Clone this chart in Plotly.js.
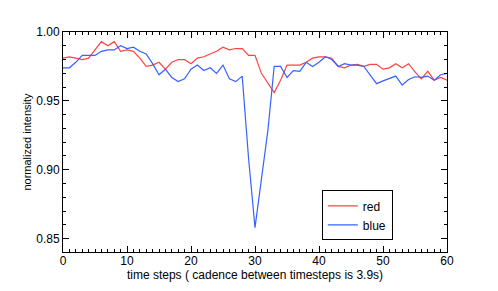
<!DOCTYPE html>
<html>
<head>
<meta charset="utf-8">
<script src="https://cdn.plot.ly/plotly-3.0.1.min.js"></script>
<style>html,body{margin:0;padding:0;background:#fff;}#chart{width:498px;height:291px;}</style>
</head>
<body>
<div id="chart"></div>
<script>
var timeSteps = [];
for (var i = 0; i <= 60; i++) timeSteps.push(i);

var redValues = [0.981,0.982,0.981,0.980,0.981,0.987,0.993,0.990,0.993,0.986,0.987,0.986,0.981,0.975,0.976,0.978,0.973,0.978,0.980,0.980,0.977,0.981,0.982,0.984,0.986,0.989,0.987,0.988,0.988,0.983,0.983,0.970,0.963,0.956,0.965,0.976,0.976,0.976,0.978,0.981,0.982,0.982,0.981,0.975,0.974,0.976,0.9765,0.975,0.9765,0.9765,0.973,0.974,0.977,0.974,0.977,0.971,0.966,0.9715,0.965,0.967,0.965];

var blueValues = [0.974,0.974,0.978,0.983,0.983,0.983,0.986,0.987,0.987,0.990,0.988,0.989,0.986,0.984,0.977,0.969,0.973,0.967,0.964,0.966,0.973,0.976,0.972,0.974,0.970,0.976,0.966,0.964,0.968,0.908,0.858,0.893,0.928,0.975,0.975,0.967,0.972,0.9715,0.978,0.975,0.978,0.982,0.980,0.975,0.977,0.976,0.976,0.975,0.969,0.9625,0.9645,0.966,0.968,0.9615,0.9655,0.9675,0.967,0.968,0.965,0.969,0.970];

var xTicks = [0, 10, 20, 30, 40, 50, 60];
var yTicks = [0.85, 0.90, 0.95, 1.00];
var yTickLabels = ["0.85", "0.90", "0.95", "1.00"];

var traces = [
  {x: timeSteps, y: redValues, type: 'scatter', mode: 'lines', name: 'red',
   line: {color: 'rgb(255,66,66)', width: 1.2}},
  {x: timeSteps, y: blueValues, type: 'scatter', mode: 'lines', name: 'blue',
   line: {color: 'rgb(55,98,255)', width: 1.2}}
];

var font = '"Liberation Sans", Arial, Helvetica, sans-serif';

var layout = {
  width: 498, height: 291,
  margin: {l: 63, r: 51, t: 32, b: 39},
  paper_bgcolor: '#fff', plot_bgcolor: '#fff',
  font: {family: font, size: 12, color: '#000'},
  showlegend: true,
  legend: {
    x: 0.674, y: 0.28, xanchor: 'left', yanchor: 'top',
    bgcolor: '#fff', bordercolor: '#000', borderwidth: 1,
    font: {family: font, size: 12, color: '#000'},
    tracegroupgap: 0, itemwidth: 30
  },
  xaxis: {
    range: [0, 60], tickvals: xTicks, ticktext: xTicks.map(String),
    ticks: 'inside', ticklen: 6, tickwidth: 1, tickcolor: '#000',
    minor: {dtick: 1, ticks: 'inside', ticklen: 3, tickwidth: 1, tickcolor: '#000', showgrid: false},
    showline: true, linecolor: '#000', linewidth: 1, mirror: 'allticks',
    showgrid: false, zeroline: false, ticklabelstandoff: -2,
    tickfont: {family: font, size: 12, color: '#000'},
    title: {text: 'time steps ( cadence between timesteps is 3.9s)', font: {family: font, size: 12, color: '#000'}, standoff: 0}
  },
  yaxis: {
    range: [0.8403, 1.0], tickvals: yTicks, ticktext: yTickLabels,
    ticks: 'inside', ticklen: 6, tickwidth: 1, tickcolor: '#000',
    minor: {dtick: 0.01, tick0: 0.85, ticks: 'inside', ticklen: 3, tickwidth: 1, tickcolor: '#000', showgrid: false},
    showline: true, linecolor: '#000', linewidth: 1, mirror: 'allticks',
    showgrid: false, zeroline: false,
    tickfont: {family: font, size: 12, color: '#000'},
    title: {text: 'normalized intensity', font: {family: '"Liberation Sans Narrow", ' + font, size: 11, color: '#000'}, standoff: 2}
  }
};

Plotly.newPlot('chart', traces, layout, {displayModeBar: false, staticPlot: true});
</script>
</body>
</html>
